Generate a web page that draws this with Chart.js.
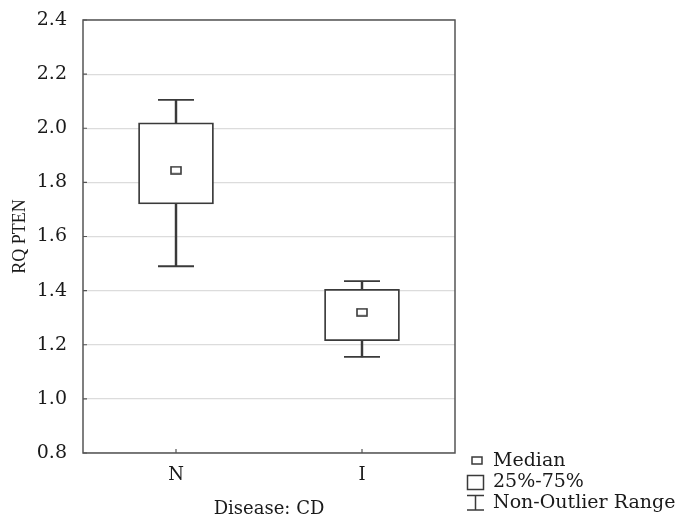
<!DOCTYPE html>
<html>
<head>
<meta charset="utf-8">
<script src="https://cdn.jsdelivr.net/npm/chart.js@4.4.1/dist/chart.umd.min.js"></script>
<style>
  html, body { margin: 0; padding: 0; background: #fff; }
  #wrap { position: relative; width: 677px; height: 515px; }
</style>
</head>
<body>
<div id="wrap"><canvas id="boxChart" width="677" height="515"></canvas></div>
<script>
// RQ PTEN by disease group (box = quartiles, whiskers = non-outlier range)
const categories = ['N', 'I'];
const minValues = [1.49, 1.155];
const q1Values = [1.72, 1.215];
const medianValues = [1.845, 1.32];
const q3Values = [2.02, 1.405];
const maxValues = [2.105, 1.435];
const yTicks = [0.8, 1.0, 1.2, 1.4, 1.6, 1.8, 2.0, 2.2, 2.4];

const ink = '#3a3a3a';
const textInk = '#1a1a1a';
const serif = "'DejaVu Serif', serif";

// small open rectangle used as the median marker
const medianMark = document.createElement('canvas');
medianMark.width = 12;
medianMark.height = 9;
(function () {
    const c = medianMark.getContext('2d');
    c.strokeStyle = ink;
    c.lineWidth = 1.6;
    c.strokeRect(1, 1, 10, 7);
})();

// frame around the plot, inward tick marks and the legend
const framePlugin = {
    id: 'frame',
    afterDraw(chart) {
        const { ctx, chartArea: a, scales } = chart;
        ctx.save();
        ctx.strokeStyle = '#555';
        ctx.lineWidth = 1.5;
        ctx.strokeRect(a.left, a.top, a.right - a.left, a.bottom - a.top);
        ctx.lineWidth = 1.2;
        ctx.beginPath();
        scales.y.ticks.forEach((t, i) => {
            const y = scales.y.getPixelForTick(i);
            ctx.moveTo(a.left, y);
            ctx.lineTo(a.left + 4, y);
        });
        categories.forEach((c, i) => {
            const x = scales.x.getPixelForTick(i);
            ctx.moveTo(x, a.bottom);
            ctx.lineTo(x, a.bottom - 4);
        });
        ctx.stroke();

        // legend
        const lx = 467, tx = 493;
        ctx.strokeStyle = ink;
        ctx.lineWidth = 1.5;
        ctx.strokeRect(472, 457, 10, 7);
        ctx.strokeRect(467.5, 475.5, 16, 14);
        ctx.beginPath();
        ctx.moveTo(lx, 495.5); ctx.lineTo(lx + 17, 495.5);
        ctx.moveTo(lx + 8.5, 495.5); ctx.lineTo(lx + 8.5, 510);
        ctx.moveTo(lx, 510); ctx.lineTo(lx + 17, 510);
        ctx.stroke();
        ctx.fillStyle = textInk;
        ctx.font = '19px ' + serif;
        ctx.textBaseline = 'middle';
        ctx.fillText('Median', tx, 461);
        ctx.fillText('25%-75%', tx, 482);
        ctx.fillText('Non-Outlier Range', tx, 503);
        ctx.restore();
    }
};

new Chart(document.getElementById('boxChart'), {
    type: 'bar',
    data: {
        labels: categories,
        datasets: [
            {
                label: 'Whisker',
                data: minValues.map((v, i) => [v, maxValues[i]]),
                backgroundColor: ink,
                borderWidth: 0,
                barThickness: 1.8,
                grouped: false,
                order: 3
            },
            {
                label: '25%-75%',
                data: q1Values.map((v, i) => [v, q3Values[i]]),
                backgroundColor: '#fff',
                borderColor: ink,
                borderWidth: 1.8,
                borderSkipped: false,
                barThickness: 75,
                grouped: false,
                order: 2
            },
            {
                type: 'line',
                label: 'Max',
                data: maxValues,
                showLine: false,
                pointStyle: 'line',
                pointRadius: 18,
                pointBorderWidth: 1.8,
                pointBorderColor: ink,
                order: 1
            },
            {
                type: 'line',
                label: 'Min',
                data: minValues,
                showLine: false,
                pointStyle: 'line',
                pointRadius: 18,
                pointBorderWidth: 1.8,
                pointBorderColor: ink,
                order: 1
            },
            {
                type: 'line',
                label: 'Median',
                data: medianValues,
                showLine: false,
                pointStyle: medianMark,
                pointRadius: 6,
                order: 0
            }
        ]
    },
    options: {
        responsive: false,
        animation: false,
        layout: { padding: { top: 20, right: 222, left: 9, bottom: 0 } },
        plugins: {
            legend: { display: false },
            tooltip: { enabled: false }
        },
        scales: {
            x: {
                offset: true,
                grid: { display: false, drawTicks: false },
                border: { display: false },
                ticks: { color: textInk, font: { family: serif, size: 18 }, padding: 12 },
                title: {
                    display: true,
                    text: 'Disease: CD',
                    color: textInk,
                    font: { family: serif, size: 18 },
                    padding: { top: 10, bottom: -5 }
                },
                afterFit(scale) { scale.height = 62; }
            },
            y: {
                min: 0.8,
                max: 2.4,
                afterBuildTicks(scale) { scale.ticks = yTicks.map(v => ({ value: v })); },
                grid: { color: '#dcdcdc', lineWidth: 1.2, drawTicks: false },
                border: { display: false },
                ticks: {
                    color: textInk,
                    font: { family: serif, size: 19 },
                    padding: 16,
                    callback: v => v.toFixed(1)
                },
                title: {
                    display: true,
                    text: 'RQ PTEN',
                    color: textInk,
                    font: { family: "'Liberation Serif', serif", size: 18 },
                    padding: { top: 0, bottom: 3 }
                },
                afterFit(scale) {
                    scale.width = 74;
                    scale.paddingTop = 0;
                    scale.paddingBottom = 0;
                }
            }
        }
    },
    plugins: [framePlugin]
});
</script>
</body>
</html>
